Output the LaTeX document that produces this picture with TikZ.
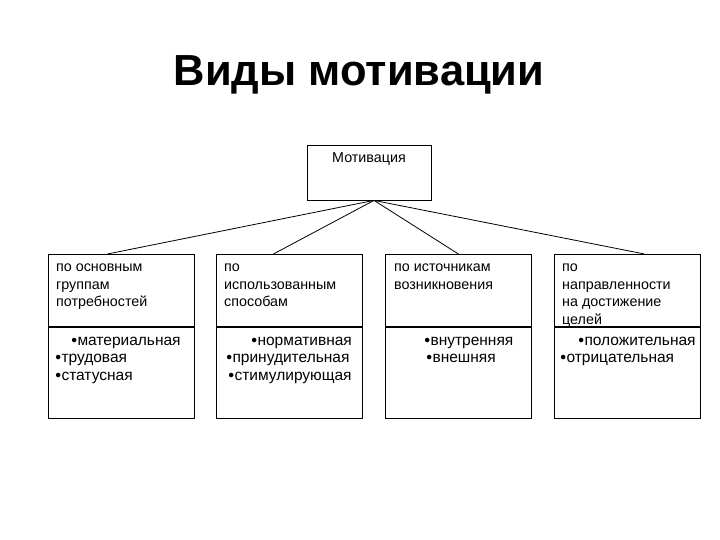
\documentclass[tikz,border=0pt]{standalone}
\usepackage{fontspec}
\setmainfont{Liberation Sans}
\usetikzlibrary{positioning}

\newcommand{\blt}{\raisebox{2pt}{\fontsize{10.5}{0}\selectfont ●}}

\tikzset{
    box/.style={draw, line width=0.8pt, minimum width=146pt, inner sep=0pt},
    txt/.style={anchor=north west, inner sep=0pt, align=left,
        font=\fontsize{14.3}{17.8}\selectfont},
    items/.style={txt, font=\fontsize{15.5}{17.5}\selectfont},
    link/.style={line width=0.8pt}
}

\begin{document}
\begin{tikzpicture}[x=1pt, y=-1pt]
        \useasboundingbox (0,0) rectangle (720,540);
        \node[font=\bfseries\fontsize{43.5}{50}\selectfont] (title) at (359,75)
            {Виды мотивации};

        % top box
        \node[box, minimum width=124pt, minimum height=55pt] (mot) at (369,172.5) {};
        \node[txt, anchor=north] (motname) at ([yshift=-8pt]mot.north) {Мотивация};
        \coordinate (hub) at ([xshift=5pt]mot.south);

        % the four groups: head part and list part
        \node[box, minimum height=72pt, anchor=north west] (head1) at (48,254) {};
        \node[box, minimum height=91pt, below=0pt of head1] (list1) {};
        \node[box, minimum height=72pt, anchor=north west] (head2) at (216,254) {};
        \node[box, minimum height=91pt, below=0pt of head2] (list2) {};
        \node[box, minimum height=72pt, anchor=north west] (head3) at (385,254) {};
        \node[box, minimum height=91pt, below=0pt of head3] (list3) {};
        \node[box, minimum height=72pt, anchor=north west] (head4) at (554,254) {};
        \node[box, minimum height=91pt, below=0pt of head4] (list4) {};

        \node[txt] (name1) at ([xshift=8pt,yshift=-9.5pt]head1.north west)
            {по основным\\группам\\потребностей};
        \node[txt] (name2) at ([xshift=8pt,yshift=-9.5pt]head2.north west)
            {по\\использованным\\способам};
        \node[txt] (name3) at ([xshift=9pt,yshift=-9.5pt]head3.north west)
            {по источникам\\возникновения};
        \node[txt] (name4) at ([xshift=8pt,yshift=-9.5pt]head4.north west)
            {по\\направленности\\на достижение\\целей};

        \node[items] (items1) at ([xshift=7pt,yshift=-10pt]list1.north west)
            {\hspace{16pt}\blt материальная\\\blt трудовая\\\blt статусная};
        \node[items] (items2) at ([xshift=10pt,yshift=-10pt]list2.north west)
            {\hspace{25pt}\blt нормативная\\\blt принудительная\\\hspace{2pt}\blt стимулирующая};
        \node[items] (items3) at ([xshift=39pt,yshift=-10pt]list3.north west)
            {\blt внутренняя\\\hspace{2pt}\blt внешняя};
        \node[items] (items4) at ([xshift=6pt,yshift=-10pt]list4.north west)
            {\hspace{18pt}\blt положительная\\\blt отрицательная};

        % connectors
        \draw[link] (hub) -- ([xshift=-14pt]head1.north);
        \draw[link] (hub) -- ([xshift=-16pt]head2.north);
        \draw[link] (hub) -- (head3.north);
        \draw[link] (hub) -- ([xshift=17pt]head4.north);
\end{tikzpicture}
\end{document}
